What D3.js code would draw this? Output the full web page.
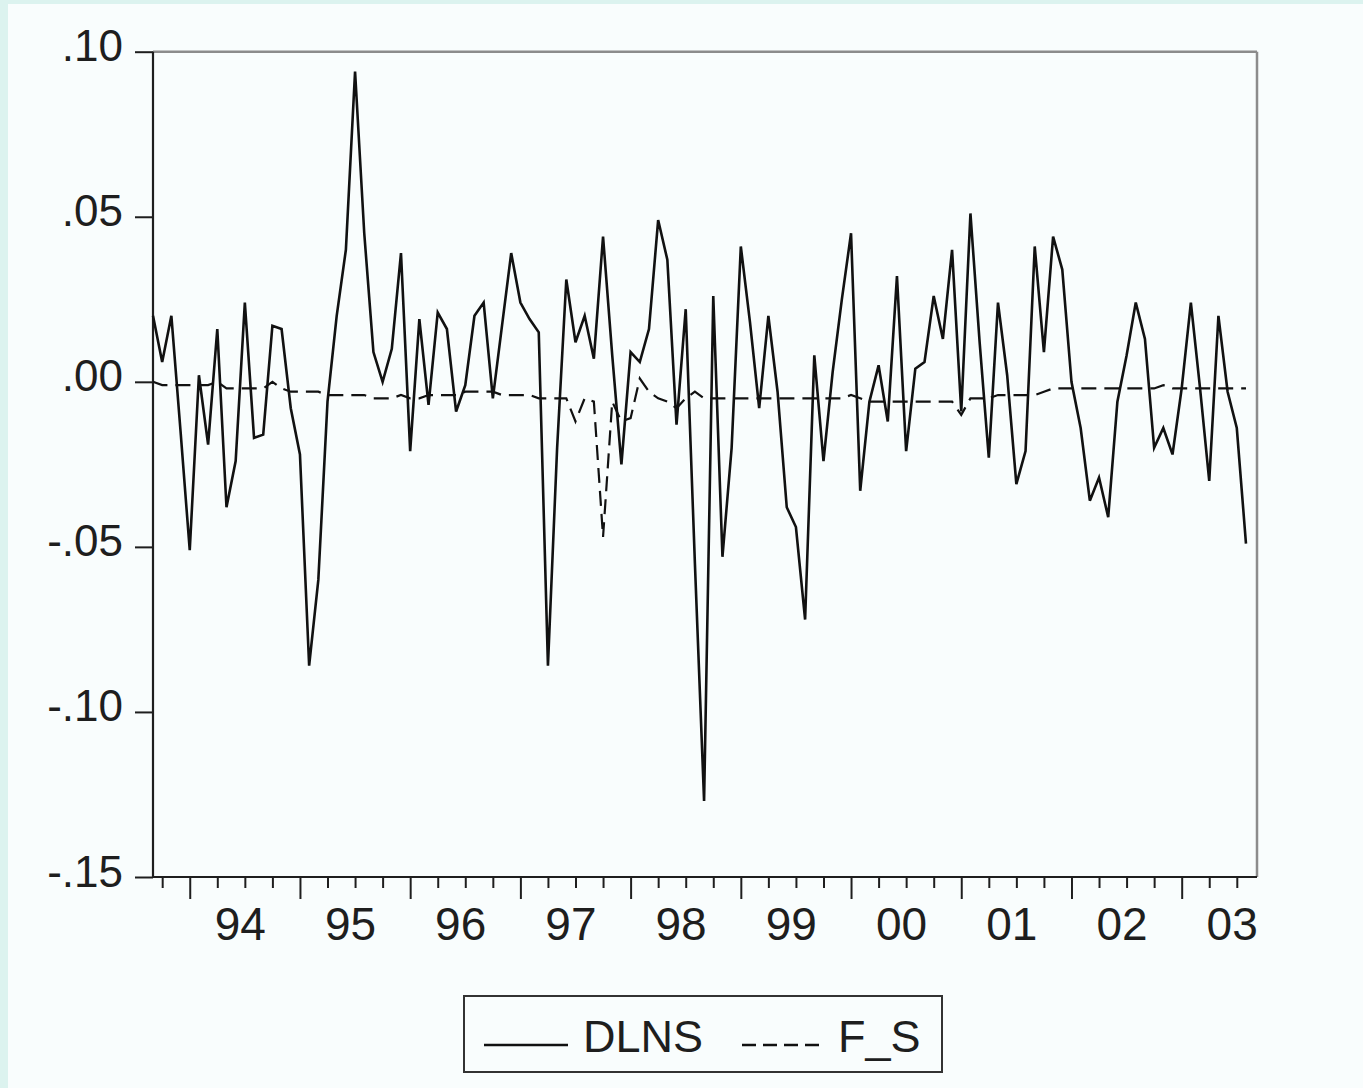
<!DOCTYPE html>
<html>
<head>
<meta charset="utf-8">
<script src="https://cdn.jsdelivr.net/npm/d3@7"></script>
<style>
  html, body { margin: 0; padding: 0; background: #f9fdfd; }
  svg { display: block; }
  text { font-family: "Liberation Sans", Arial, sans-serif; fill: #1e1e1e; }
</style>
</head>
<body>
<svg id="chart"></svg>
<script>
// monthly series, 1993M09 .. 2003M08
var startYear = 1993, startMonth = 8; // 0-based, September

var dlns = [
  0.020, 0.006, 0.020, -0.015, -0.051, 0.002, -0.019, 0.016, -0.038, -0.024,
  0.024, -0.017, -0.016, 0.017, 0.016, -0.008, -0.022, -0.086, -0.060, -0.006,
  0.020, 0.040, 0.094, 0.045, 0.009, 0.000, 0.010, 0.039, -0.021, 0.019,
  -0.007, 0.021, 0.016, -0.009, -0.001, 0.020, 0.024, -0.005, 0.017, 0.039,
  0.024, 0.019, 0.015, -0.086, -0.020, 0.031, 0.012, 0.020, 0.007, 0.044,
  0.008, -0.025, 0.009, 0.006, 0.016, 0.049, 0.037, -0.013, 0.022, -0.055,
  -0.127, 0.026, -0.053, -0.020, 0.041, 0.018, -0.008, 0.020, -0.003, -0.038,
  -0.044, -0.072, 0.008, -0.024, 0.003, 0.025, 0.045, -0.033, -0.006, 0.005,
  -0.012, 0.032, -0.021, 0.004, 0.006, 0.026, 0.013, 0.040, -0.009, 0.051,
  0.012, -0.023, 0.024, 0.002, -0.031, -0.021, 0.041, 0.009, 0.044, 0.034,
  0.000, -0.014, -0.036, -0.029, -0.041, -0.006, 0.008, 0.024, 0.013, -0.020,
  -0.014, -0.022, -0.002, 0.024, -0.002, -0.030, 0.020, -0.003, -0.014, -0.049
];

var fs = [
  0.000, -0.001, -0.001, -0.001, -0.001, -0.001, -0.001, 0.000, -0.002, -0.002,
  -0.002, -0.002, -0.002, 0.000, -0.002, -0.003, -0.003, -0.003, -0.003, -0.004,
  -0.004, -0.004, -0.004, -0.004, -0.005, -0.005, -0.005, -0.004, -0.005, -0.005,
  -0.004, -0.004, -0.004, -0.004, -0.003, -0.003, -0.003, -0.003, -0.004, -0.004,
  -0.004, -0.004, -0.005, -0.005, -0.005, -0.005, -0.012, -0.005, -0.006, -0.047,
  -0.006, -0.012, -0.011, 0.001, -0.003, -0.005, -0.006, -0.008, -0.005, -0.003,
  -0.005, -0.005, -0.005, -0.005, -0.005, -0.005, -0.005, -0.005, -0.005, -0.005,
  -0.005, -0.005, -0.005, -0.005, -0.005, -0.005, -0.004, -0.005, -0.006, -0.006,
  -0.006, -0.006, -0.006, -0.006, -0.006, -0.006, -0.006, -0.006, -0.010, -0.005,
  -0.005, -0.005, -0.004, -0.004, -0.004, -0.004, -0.004, -0.003, -0.002, -0.002,
  -0.002, -0.002, -0.002, -0.002, -0.002, -0.002, -0.002, -0.002, -0.002, -0.002,
  -0.001, -0.002, -0.002, -0.002, -0.002, -0.002, -0.002, -0.002, -0.002, -0.002
];

var yearLabels = ["94", "95", "96", "97", "98", "99", "00", "01", "02", "03"];
var yTicks = [-0.15, -0.10, -0.05, 0.00, 0.05, 0.10];
var seriesNames = ["DLNS", "F_S"];

var W = 1363, H = 1088;
var plotL = 153, plotR = 1257, plotT = 51.7, plotB = 877;

var svg = d3.select("#chart").attr("width", W).attr("height", H);

svg.append("rect").attr("width", W).attr("height", H).attr("fill", "#f9fdfd");
svg.append("rect").attr("width", 8).attr("height", H).attr("fill", "#dcf3ef");
svg.append("rect").attr("width", W).attr("height", 4).attr("fill", "#dcf3ef");

var x = d3.scaleLinear().domain([0, 120.2]).range([plotL, plotR]);
var y = d3.scaleLinear().domain([-0.15, 0.10]).range([plotB, plotT]);

// quarter ticks, long ones at January
var qTicks = d3.range(0, 121).filter(function (i) { return (startMonth + i) % 3 === 0; });

var xAxis = svg.append("g")
  .attr("transform", "translate(0," + plotB + ")")
  .call(d3.axisBottom(x).tickValues(qTicks).tickFormat("").tickSize(11).tickSizeOuter(0));
xAxis.select(".domain").remove();
xAxis.selectAll(".tick line")
  .attr("stroke", "#1e1e1e")
  .attr("stroke-width", 2)
  .attr("y2", function (d) { return (startMonth + d) % 12 === 0 ? 22 : 11; });

// year labels, centred on each year
var firstJan = 12 - startMonth;
svg.append("g").selectAll("text")
  .data(yearLabels)
  .enter()
  .append("text")
  .attr("x", function (d, i) { return x(firstJan + i * 12 + 5.5); })
  .attr("y", 940)
  .attr("text-anchor", "middle")
  .attr("font-size", "46px")
  .text(function (d) { return d; });

var fmt = d3.format(".2f");
var yAxis = svg.append("g")
  .attr("transform", "translate(" + plotL + ",0)")
  .call(d3.axisLeft(y).tickValues(yTicks).tickSize(18).tickPadding(12).tickSizeOuter(0)
    .tickFormat(function (d) { return fmt(d).replace("\u2212", "-").replace("0.", "."); }));
yAxis.select(".domain").remove();
yAxis.selectAll(".tick line").attr("stroke", "#1e1e1e").attr("stroke-width", 2);
yAxis.selectAll(".tick text")
  .attr("font-size", "44px")
  .attr("font-family", "'Liberation Sans', Arial, sans-serif")
  .attr("fill", "#1e1e1e")
  .attr("dy", null)
  .attr("y", 9);

// frame
svg.append("line").attr("x1", plotL).attr("x2", plotR).attr("y1", plotT).attr("y2", plotT)
  .attr("stroke", "#8c8c8c").attr("stroke-width", 2.5);
svg.append("line").attr("x1", plotR).attr("x2", plotR).attr("y1", plotT).attr("y2", plotB)
  .attr("stroke", "#8c8c8c").attr("stroke-width", 2.5);
svg.append("line").attr("x1", plotL).attr("x2", plotL).attr("y1", plotT).attr("y2", plotB)
  .attr("stroke", "#1e1e1e").attr("stroke-width", 2.2);
svg.append("line").attr("x1", plotL).attr("x2", plotR).attr("y1", plotB).attr("y2", plotB)
  .attr("stroke", "#1e1e1e").attr("stroke-width", 2.2);

var line = d3.line()
  .x(function (d, i) { return x(i); })
  .y(function (d) { return y(d); });

svg.append("path")
  .datum(fs)
  .attr("d", line)
  .attr("fill", "none")
  .attr("stroke", "#111")
  .attr("stroke-width", 2.2)
  .attr("stroke-dasharray", "15,8");

svg.append("path")
  .datum(dlns)
  .attr("d", line)
  .attr("fill", "none")
  .attr("stroke", "#111")
  .attr("stroke-width", 2.6)
  .attr("stroke-linejoin", "miter");

// legend
var legend = svg.append("g");
legend.append("rect")
  .attr("x", 464).attr("y", 996).attr("width", 478).attr("height", 76)
  .attr("fill", "none").attr("stroke", "#333").attr("stroke-width", 2);
legend.append("line").attr("x1", 484).attr("x2", 568).attr("y1", 1045).attr("y2", 1045)
  .attr("stroke", "#111").attr("stroke-width", 2.4);
legend.append("text").attr("x", 583).attr("y", 1052).attr("font-size", "45px").text(seriesNames[0]);
legend.append("line").attr("x1", 742).attr("x2", 822).attr("y1", 1045).attr("y2", 1045)
  .attr("stroke", "#111").attr("stroke-width", 2.4).attr("stroke-dasharray", "14,7");
legend.append("text").attr("x", 838).attr("y", 1052).attr("font-size", "45px").text(seriesNames[1]);
</script>
</body>
</html>
